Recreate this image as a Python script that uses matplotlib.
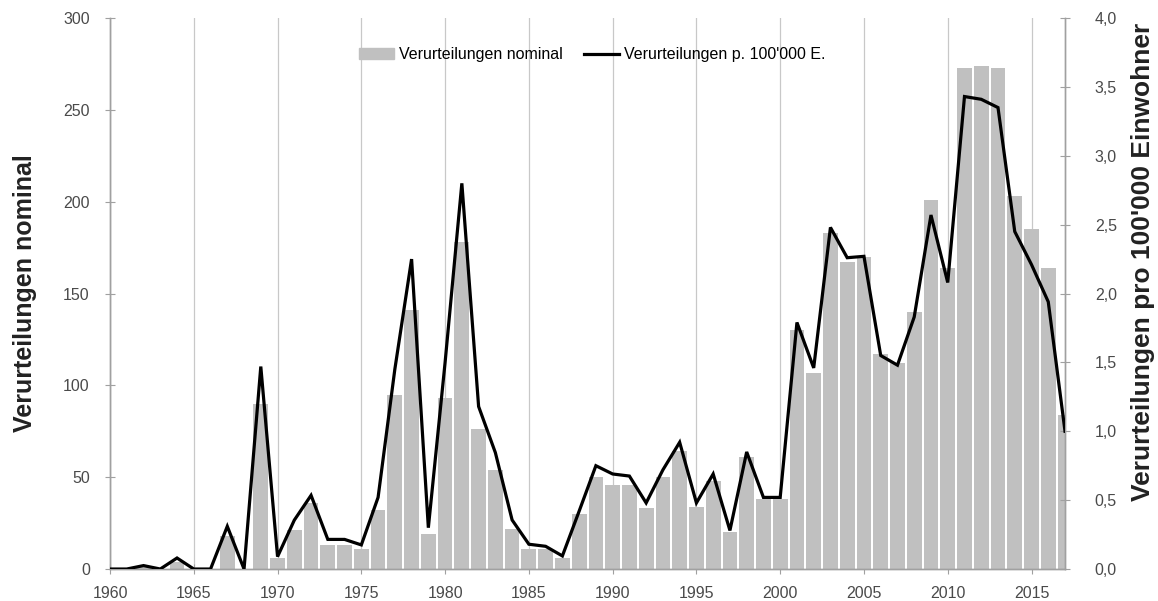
import matplotlib
matplotlib.use("Agg")
import matplotlib.pyplot as plt
from matplotlib.ticker import FuncFormatter, MultipleLocator
from matplotlib.patches import Patch
from matplotlib.lines import Line2D

years = list(range(1960, 2018))
nominal = [0, 0, 1, 0, 4, 0, 0, 18, 0, 90,
           6, 21, 36, 13, 13, 11, 32, 95, 141, 19,
           93, 178, 76, 54, 22, 11, 11, 6, 30, 50,
           46, 46, 33, 50, 64, 34, 48, 20, 61, 38,
           38, 130, 107, 183, 167, 170, 117, 112, 140, 201,
           164, 273, 274, 273, 203, 185, 164, 84]
rate = [0, 0, 0.025, 0, 0.08, 0, 0, 0.31, 0, 1.47,
        0.09, 0.355, 0.535, 0.215, 0.215, 0.175, 0.52, 1.45, 2.25, 0.30,
        1.5, 2.8, 1.18, 0.845, 0.356, 0.18, 0.165, 0.095, 0.42, 0.75,
        0.69, 0.675, 0.48, 0.72, 0.92, 0.48, 0.69, 0.28, 0.85, 0.52,
        0.52, 1.79, 1.46, 2.48, 2.26, 2.27, 1.55, 1.48, 1.83, 2.57,
        2.08, 3.43, 3.41, 3.35, 2.45, 2.21, 1.94, 1.0]
xticks = list(range(1960, 2016, 5))
label_bars = "Verurteilungen nominal"
label_line = "Verurteilungen p. 100'000 E."
ylabel_left = "Verurteilungen nominal"
ylabel_right = "Verurteilungen pro 100'000 Einwohner"

plt.rcParams['font.family'] = ['Liberation Sans', 'DejaVu Sans']

fig = plt.figure(figsize=(11.58, 6.01), dpi=100)
ax = fig.add_axes([0.095, 0.0532, 0.8247, 0.9168])
ax2 = ax.twinx()

bar_color = '#c0c0c0'
spine_color = '#a0a0a0'
tick_color = '#4a4a4a'

ax.bar(years, nominal, width=0.88, color=bar_color, zorder=2)
ax2.plot(years, rate, color='black', lw=2.3, zorder=3, solid_joinstyle='miter')

ax.set_xlim(1960, 2017)
ax.set_ylim(0, 300)
ax2.set_ylim(0, 4)
ax.set_xticks(xticks)
ax.yaxis.set_major_locator(MultipleLocator(50))
ax2.yaxis.set_major_locator(MultipleLocator(0.5))
ax2.yaxis.set_major_formatter(FuncFormatter(lambda v, p: f"{v:.1f}".replace('.', ',')))

for x in xticks:
    ax.axvline(x, color='#c8c8c8', lw=0.9, zorder=1)

for a in (ax, ax2):
    for s in a.spines.values():
        s.set_color(spine_color)
        s.set_linewidth(1.0)
    a.spines['top'].set_visible(False)
    a.tick_params(direction='inout', length=7, width=0.8, color=spine_color,
                  labelcolor=tick_color, labelsize=11.5)
ax.tick_params(axis='x', pad=9)
ax.tick_params(axis='y', pad=11)
ax2.tick_params(axis='y', pad=18)

ax.set_ylabel(ylabel_left, fontsize=18, fontweight='bold', color='#222222')
ax2.set_ylabel(ylabel_right, fontsize=19, fontweight='bold', color='#222222')
ax.yaxis.set_label_coords((37 - 110) / 955.0, 0.5)
ax2.yaxis.set_label_coords((1131 - 110) / 955.0, 0.557)

handles = [Patch(color=bar_color, label=label_bars),
           Line2D([0], [0], color='black', lw=2.3, label=label_line)]
ax2.legend(handles=handles, loc='center', bbox_to_anchor=(0.505, 0.933), ncol=2,
           frameon=False, fontsize=11.5, handlelength=2.2, handletextpad=0.3,
           columnspacing=1.3)

fig.savefig('out.png', dpi=100)
